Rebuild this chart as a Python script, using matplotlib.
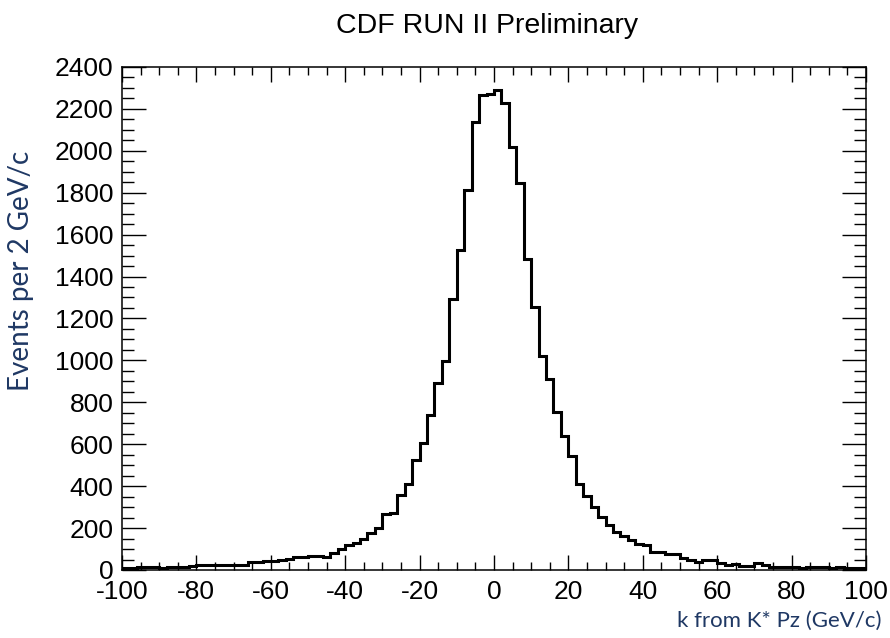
import matplotlib
matplotlib.use('Agg')
import matplotlib.pyplot as plt
import numpy as np
from matplotlib.ticker import MultipleLocator

plt.rcParams['axes.unicode_minus'] = False

# bin edges: 2 GeV/c bins from -100 to 100
edges = np.arange(-100, 101, 2)

# events per bin
counts = [10, 10, 15, 15, 12, 10, 12, 15, 15, 18,
          24, 24, 25, 25, 25, 25, 25, 40, 40, 41,
          45, 48, 53, 60, 62, 66, 66, 60, 79, 98,
          117, 130, 149, 177, 201, 269, 271, 360, 412, 527,
          606, 741, 892, 995, 1291, 1528, 1814, 2139, 2268, 2270,
          2290, 2230, 2017, 1845, 1483, 1256, 1022, 911, 752, 641,
          542, 412, 355, 301, 254, 217, 180, 161, 142, 122,
          120, 85, 84, 74, 74, 56, 46, 39, 46, 50,
          34, 26, 28, 20, 20, 31, 23, 13, 15, 16,
          15, 8, 12, 16, 12, 11, 12, 10, 11, 9]

title = 'CDF RUN II Preliminary'
xlabel = 'k from K* Pz (GeV/c)'
ylabel = 'Events per 2 GeV/c'
label_color = '#1f3864'

fig = plt.figure(figsize=(8.9, 6.38), dpi=100)
ax = fig.add_axes([0.137, 0.1066, 0.836, 0.7885])

ax.stairs(counts, edges, color='black', linewidth=2.2)

ax.set_xlim(-100, 100)
ax.set_ylim(0, 2400)

ax.xaxis.set_major_locator(MultipleLocator(20))
ax.xaxis.set_minor_locator(MultipleLocator(5))
ax.yaxis.set_major_locator(MultipleLocator(200))
ax.yaxis.set_minor_locator(MultipleLocator(50))

ax.tick_params(which='both', direction='in', top=True, right=True,
               width=1.0, color='black')
ax.tick_params(axis='x', which='major', length=11, pad=7.5)
ax.tick_params(axis='x', which='minor', length=5.5)
ax.tick_params(axis='y', which='major', length=17, pad=6)
ax.tick_params(axis='y', which='minor', length=8.5)
for lab in ax.get_xticklabels() + ax.get_yticklabels():
    lab.set_fontfamily('Liberation Sans')
    lab.set_fontsize(19)

for s in ax.spines.values():
    s.set_linewidth(1.1)

fig.text(0.547, 0.96, title, ha='center', va='center',
         fontsize=20.5, family='Liberation Sans')
fig.text(0.024, 0.575, ylabel, rotation=90, ha='center', va='center',
         fontsize=20, family='Lato', color=label_color)
fig.text(0.99, 0.027, xlabel, ha='right', va='center',
         fontsize=16, family='Lato', color=label_color)

fig.savefig('out.png', dpi=100)
